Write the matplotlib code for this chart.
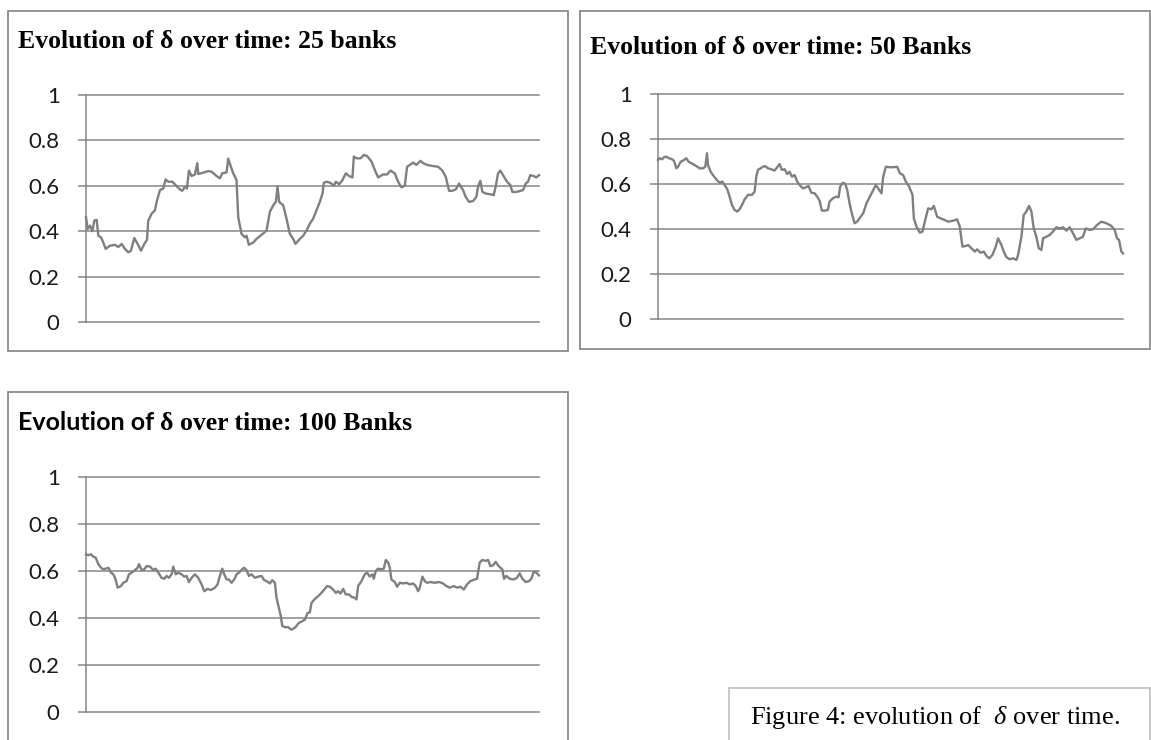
import matplotlib
matplotlib.use("Agg")
import matplotlib.pyplot as plt
from matplotlib.patches import Rectangle

# ---------------- data ----------------
yticks = [0, 0.2, 0.4, 0.6, 0.8, 1]
ytick_labels = ["0", "0.2", "0.4", "0.6", "0.8", "1"]

titles = ["Evolution of \u03b4 over time: 25 banks",
          "Evolution of \u03b4 over time: 50 Banks",
          "\u03b4 over time: 100 Banks"]
title3_prefix = "Evolution of "
caption = "Figure 4: evolution of  $\\delta$ over time."

# 25 banks
t25 = [3, 8, 15, 22, 28, 35, 40, 48, 55, 62, 75, 90, 100, 110, 120, 130, 138, 148, 158, 168,
       178, 186, 190, 200, 210, 215, 225, 235, 242, 250, 262, 272, 285, 292, 300, 306, 312, 320,
       330, 337, 340, 355, 370, 380, 395, 405, 412, 425, 430, 438, 445, 455, 460, 470, 480, 485,
       492, 505, 515, 530, 545, 555, 565, 573, 578, 583, 595, 605, 615, 625, 632, 645, 655, 665,
       675, 685, 695, 705, 713, 717, 725, 737, 747, 753, 763, 773, 783, 793, 803, 807, 815, 827,
       837, 847, 860, 870, 880, 895, 907, 917, 930, 940, 950, 960, 967, 975, 985, 995, 1007, 1015,
       1027, 1045, 1060, 1073, 1083, 1093, 1103, 1113, 1123, 1135, 1143, 1153, 1165, 1175, 1180,
       1187, 1193, 1203, 1215, 1227, 1233, 1240, 1247, 1255, 1267, 1277, 1283, 1295, 1307, 1315,
       1323, 1330, 1337, 1347, 1355, 1363]
d25 = [0.462, 0.41, 0.425, 0.40, 0.447, 0.45, 0.38, 0.373, 0.35, 0.322, 0.336, 0.34, 0.33, 0.344,
       0.322, 0.307, 0.314, 0.37, 0.344, 0.314, 0.344, 0.362, 0.447, 0.477, 0.492, 0.529, 0.581,
       0.588, 0.628, 0.618, 0.618, 0.603, 0.584, 0.578, 0.596, 0.588, 0.667, 0.643, 0.65, 0.70,
       0.652, 0.658, 0.665, 0.662, 0.643, 0.633, 0.655, 0.659, 0.72, 0.684, 0.655, 0.625, 0.462,
       0.388, 0.373, 0.38, 0.34, 0.35, 0.366, 0.384, 0.403, 0.485, 0.514, 0.529, 0.596, 0.529,
       0.514, 0.455, 0.388, 0.366, 0.344, 0.366, 0.38, 0.403, 0.433, 0.455, 0.492, 0.529, 0.566,
       0.613, 0.618, 0.613, 0.60, 0.618, 0.607, 0.625, 0.655, 0.643, 0.637, 0.729, 0.721, 0.721,
       0.736, 0.731, 0.707, 0.67, 0.637, 0.65, 0.65, 0.667, 0.655, 0.618, 0.593, 0.60, 0.684,
       0.692, 0.702, 0.692, 0.71, 0.70, 0.692, 0.687, 0.684, 0.667, 0.64, 0.578, 0.578, 0.584,
       0.61, 0.581, 0.551, 0.529, 0.533, 0.551, 0.596, 0.622, 0.573, 0.566, 0.563, 0.559, 0.596,
       0.655, 0.667, 0.647, 0.618, 0.603, 0.573, 0.573, 0.578, 0.581, 0.61, 0.618, 0.647, 0.643,
       0.637, 0.647]

# 50 banks
t50 = [0, 5, 12, 18, 25, 32, 40, 48, 55, 60, 68, 78, 85, 92, 105, 115, 125, 135, 142, 147, 150,
       158, 165, 175, 185, 193, 200, 208, 215, 222, 230, 238, 245, 252, 260, 270, 282, 290, 295,
       300, 308, 315, 322, 330, 340, 350, 358, 365, 372, 380, 388, 395, 402, 410, 418, 425, 435,
       445, 452, 460, 470, 478, 485, 492, 500, 510, 515, 525, 535, 542, 547, 555, 562, 568, 575,
       582, 590, 598, 605, 616, 626, 636, 646, 654, 661, 671, 676, 684, 694, 706, 718, 726, 736,
       744, 754, 764, 768, 776, 786, 794, 801, 811, 821, 828, 838, 848, 861, 871, 886, 898, 906,
       914, 924, 931, 941, 951, 958, 968, 978, 986, 994, 1004, 1014, 1021, 1031, 1038, 1046, 1056,
       1066, 1076, 1081, 1091, 1098, 1106, 1114, 1121, 1128, 1136, 1143, 1151, 1156, 1166, 1176,
       1186, 1196, 1206, 1216, 1226, 1236, 1246, 1256, 1266, 1276, 1284, 1296, 1306, 1318, 1331,
       1346, 1361, 1371, 1378, 1384, 1391, 1396]
d50 = [0.708, 0.716, 0.711, 0.72, 0.723, 0.716, 0.713, 0.705, 0.671, 0.678, 0.70, 0.708, 0.716,
       0.70, 0.69, 0.681, 0.671, 0.671, 0.678, 0.738, 0.686, 0.656, 0.641, 0.622, 0.607, 0.612,
       0.597, 0.578, 0.545, 0.508, 0.486, 0.479, 0.489, 0.508, 0.533, 0.553, 0.553, 0.567, 0.634,
       0.664, 0.671, 0.678, 0.681, 0.671, 0.667, 0.661, 0.676, 0.69, 0.664, 0.667, 0.646, 0.656,
       0.634, 0.641, 0.612, 0.597, 0.582, 0.587, 0.593, 0.563, 0.56, 0.545, 0.527, 0.483, 0.483,
       0.486, 0.523, 0.538, 0.545, 0.542, 0.59, 0.607, 0.602, 0.575, 0.516, 0.471, 0.427, 0.434,
       0.449, 0.471, 0.516, 0.545, 0.575, 0.597, 0.582, 0.56, 0.634, 0.678, 0.676, 0.676, 0.678,
       0.649, 0.641, 0.612, 0.59, 0.553, 0.449, 0.412, 0.385, 0.39, 0.434, 0.493, 0.489, 0.504,
       0.456, 0.449, 0.441, 0.434, 0.438, 0.444, 0.412, 0.323, 0.326, 0.33, 0.316, 0.301, 0.311,
       0.296, 0.301, 0.282, 0.271, 0.286, 0.323, 0.36, 0.33, 0.301, 0.276, 0.267, 0.271, 0.264,
       0.286, 0.367, 0.464, 0.479, 0.504, 0.479, 0.404, 0.367, 0.316, 0.308, 0.36, 0.367, 0.375,
       0.39, 0.409, 0.404, 0.409, 0.394, 0.409, 0.382, 0.353, 0.36, 0.367, 0.404, 0.397, 0.40,
       0.419, 0.434, 0.427, 0.415, 0.397, 0.36, 0.353, 0.301, 0.293]

# 100 banks
t100 = [3, 10, 18, 25, 32, 40, 48, 55, 62, 70, 78, 85, 92, 98, 108, 115, 125, 132, 140, 150,
        158, 162, 170, 178, 185, 195, 205, 212, 220, 230, 238, 245, 252, 260, 265, 272, 280, 290,
        298, 305, 312, 320, 330, 340, 350, 358, 368, 378, 390, 398, 405, 412, 418, 425, 432, 440,
        448, 455, 462, 470, 477, 485, 492, 500, 510, 520, 530, 538, 545, 555, 562, 570, 575, 582,
        588, 592, 600, 610, 620, 632, 642, 652, 660, 668, 675, 680, 690, 700, 710, 720, 727, 735,
        745, 753, 760, 767, 775, 783, 793, 800, 810, 815, 820, 830, 840, 847, 855, 863, 867, 873,
        880, 890, 897, 903, 910, 915, 920, 930, 937, 945, 955, 965, 975, 985, 993, 1000, 1005,
        1013, 1020, 1027, 1037, 1050, 1063, 1075, 1085, 1095, 1107, 1117, 1127, 1137, 1147, 1157,
        1170, 1177, 1185, 1193, 1203, 1210, 1217, 1225, 1233, 1240, 1247, 1253, 1258, 1265, 1275,
        1287, 1297, 1305, 1313, 1323, 1333, 1340, 1347, 1355, 1363]
d100 = [0.671, 0.667, 0.671, 0.661, 0.657, 0.629, 0.614, 0.607, 0.61, 0.614, 0.593, 0.586,
        0.564, 0.529, 0.536, 0.55, 0.557, 0.586, 0.593, 0.604, 0.614, 0.629, 0.604, 0.607, 0.621,
        0.619, 0.604, 0.61, 0.593, 0.571, 0.567, 0.579, 0.571, 0.586, 0.619, 0.586, 0.593, 0.586,
        0.576, 0.579, 0.553, 0.571, 0.586, 0.571, 0.543, 0.514, 0.524, 0.519, 0.529, 0.543, 0.579,
        0.61, 0.586, 0.564, 0.564, 0.55, 0.564, 0.586, 0.593, 0.604, 0.614, 0.604, 0.579, 0.586,
        0.571, 0.576, 0.579, 0.561, 0.557, 0.547, 0.561, 0.55, 0.486, 0.443, 0.407, 0.367, 0.361,
        0.361, 0.35, 0.361, 0.379, 0.386, 0.393, 0.421, 0.424, 0.464, 0.481, 0.493, 0.507, 0.524,
        0.536, 0.533, 0.521, 0.507, 0.514, 0.504, 0.524, 0.50, 0.50, 0.49, 0.486, 0.479, 0.536,
        0.557, 0.586, 0.593, 0.576, 0.586, 0.567, 0.60, 0.61, 0.607, 0.61, 0.647, 0.636, 0.614,
        0.564, 0.553, 0.533, 0.55, 0.547, 0.55, 0.543, 0.547, 0.536, 0.514, 0.529, 0.576, 0.557,
        0.55, 0.553, 0.55, 0.553, 0.547, 0.536, 0.529, 0.536, 0.529, 0.533, 0.521, 0.543, 0.557,
        0.564, 0.567, 0.636, 0.647, 0.643, 0.647, 0.621, 0.624, 0.639, 0.624, 0.614, 0.607, 0.567,
        0.579, 0.567, 0.564, 0.571, 0.59, 0.567, 0.553, 0.557, 0.567, 0.596, 0.593, 0.581]

# ---------------- style ----------------
plt.rcParams['mathtext.fontset'] = 'custom'
plt.rcParams['mathtext.rm'] = 'Liberation Serif'
plt.rcParams['mathtext.it'] = 'Liberation Serif:italic'

W, H = 1151, 740
fig = plt.figure(figsize=(W / 100, H / 100), dpi=100)

GRID = '#868686'
LINE = '#7f7f7f'
BOX = '#8a8a8a'


def fx(px):
    return px / W


def fy(py):
    return 1 - py / H


def add_box(x0, y0, x1, y1, color=BOX, lw=1.3):
    fig.patches.append(Rectangle((fx(x0), fy(y1)), fx(x1) - fx(x0), fy(y0) - fy(y1),
                                 transform=fig.transFigure, fill=False,
                                 edgecolor=color, linewidth=lw, zorder=0))


def make_axes(left, right, top, bottom, t, d):
    ax = fig.add_axes([fx(left), fy(bottom), fx(right) - fx(left), fy(top) - fy(bottom)])
    ax.plot(t, d, color=LINE, linewidth=1.7, solid_joinstyle='round', zorder=3, clip_on=False)
    ax.set_xlim(t[0], t[-1])
    ax.set_ylim(0, 1)
    ax.set_yticks(yticks)
    ax.set_yticklabels(ytick_labels, fontfamily='Lato', fontsize=16, color='#1a1a1a')
    ax.set_xticks([])
    ax.tick_params(axis='y', length=6, width=1.1, color=GRID, pad=13)
    ax.grid(axis='y', color=GRID, linewidth=1.1)
    for gl in ax.get_ygridlines():
        gl.set_clip_on(False)
    for s in ['top', 'right', 'bottom']:
        ax.spines[s].set_visible(False)
    ax.spines['left'].set_color(GRID)
    ax.spines['left'].set_linewidth(1.1)
    ax.set_facecolor('none')
    return ax


# panel boxes
add_box(8, 11, 568, 351)
add_box(580, 11, 1150, 349)
add_box(8, 392, 568, 745)
add_box(729, 688, 1150, 745, color='#c4c4c4', lw=1.3)

make_axes(86, 539, 95, 322, t25, d25)
make_axes(658, 1123, 94.3, 319.3, t50, d50)
make_axes(86, 539, 477, 712, t100, d100)

# titles
fig.text(fx(18), fy(48), titles[0], fontfamily='Liberation Serif', fontweight='bold',
         fontsize=18.5, va='baseline', ha='left')
fig.text(fx(590), fy(54), titles[1], fontfamily='Liberation Serif', fontweight='bold',
         fontsize=18.5, va='baseline', ha='left')
tp = fig.text(fx(18), fy(430), title3_prefix, fontfamily='Lato', fontweight='bold',
              fontsize=18, va='baseline', ha='left')
fig.canvas.draw()
bb = tp.get_window_extent(renderer=fig.canvas.get_renderer())
fig.text(bb.x1 / W, fy(430), titles[2], fontfamily='Liberation Serif', fontweight='bold',
         fontsize=18.5, va='baseline', ha='left')

# caption
fig.text(fx(750), fy(724), caption, fontfamily='Liberation Serif', fontsize=19,
         va='baseline', ha='left')

fig.savefig('out.png', dpi=100)
